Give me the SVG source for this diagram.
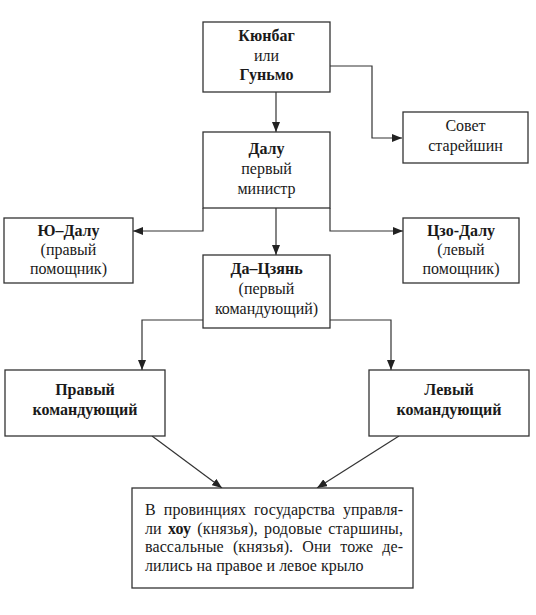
<svg xmlns="http://www.w3.org/2000/svg" width="536" height="615" viewBox="0 0 536 615" font-family="Liberation Serif, serif">
<style>
rect.n{fill:#fff;stroke:#333;stroke-width:1.3}
text{font-family:'Liberation Serif',serif;font-size:16px;fill:#1a1a1a}
.c{text-anchor:middle}
.b{font-weight:bold}
.ln{fill:none;stroke:#333;stroke-width:1.2}
</style>
<defs>
<marker id="ah" viewBox="0 0 10 8" refX="10" refY="4" markerWidth="10" markerHeight="8" markerUnits="userSpaceOnUse" orient="auto">
<path d="M0,0 L10,4 L0,8 Z" fill="#222"/>
</marker>
</defs>
<rect x="0" y="0" width="536" height="615" fill="#fff"/>
<g id="connectors">
<path class="ln" d="M276,92 V132" marker-end="url(#ah)"/>
<path class="ln" d="M330,66 H372 V138 H402" marker-end="url(#ah)"/>
<path class="ln" d="M203,208 V231 H133" marker-end="url(#ah)"/>
<path class="ln" d="M330,208 V231 H403" marker-end="url(#ah)"/>
<path class="ln" d="M276,208 V255" marker-end="url(#ah)"/>
<path class="ln" d="M203,320 H142 V370" marker-end="url(#ah)"/>
<path class="ln" d="M330,320 H391 V370" marker-end="url(#ah)"/>
<path class="ln" d="M152,436 L222,488" marker-end="url(#ah)"/>
<path class="ln" d="M399,436 L317,488" marker-end="url(#ah)"/>
</g>
<g id="kyunbag">
<rect class="n" x="203" y="22" width="127" height="70"/>
<text class="c b" x="266.5" y="41">Кюнбаг</text>
<text class="c" x="266.5" y="61">или</text>
<text class="c b" x="266.5" y="80">Гуньмо</text>
</g>
<g id="sovet">
<rect class="n" x="403" y="112" width="125" height="51"/>
<text class="c" x="465.5" y="131">Совет</text>
<text class="c" x="465.5" y="151">старейшин</text>
</g>
<g id="dalu">
<rect class="n" x="203" y="132" width="127" height="76"/>
<text class="c b" x="266.5" y="154">Далу</text>
<text class="c" x="266.5" y="174">первый</text>
<text class="c" x="266.5" y="194">министр</text>
</g>
<g id="yu-dalu">
<rect class="n" x="4" y="218" width="129" height="65"/>
<text class="c b" x="68.5" y="236">Ю–Далу</text>
<text class="c" x="68.5" y="255">(правый</text>
<text class="c" x="68.5" y="274">помощник)</text>
</g>
<g id="tszo-dalu">
<rect class="n" x="403" y="218" width="116" height="65"/>
<text class="c b" x="461" y="236">Цзо-Далу</text>
<text class="c" x="461" y="255">(левый</text>
<text class="c" x="461" y="274">помощник)</text>
</g>
<g id="da-tszyan">
<rect class="n" x="203" y="255" width="127" height="73"/>
<text class="c b" x="266.5" y="274">Да–Цзянь</text>
<text class="c" x="266.5" y="294">(первый</text>
<text class="c" x="266.5" y="314">командующий)</text>
</g>
<g id="pravyi">
<rect class="n" x="5" y="370" width="160" height="66"/>
<text class="c b" x="85" y="395">Правый</text>
<text class="c b" x="85" y="415">командующий</text>
</g>
<g id="levyi">
<rect class="n" x="369" y="370" width="160" height="66"/>
<text class="c b" x="449" y="395">Левый</text>
<text class="c b" x="449" y="415">командующий</text>
</g>
<g id="provinces">
<rect class="n" x="132" y="488" width="281" height="100"/>
<text x="145" y="515" word-spacing="4" textLength="258" lengthAdjust="spacing">В провинциях государства управля-</text>
<text x="145" y="533.5" word-spacing="2" textLength="258" lengthAdjust="spacing">ли <tspan class="b">хоу</tspan> (князья), родовые старшины,</text>
<text x="145" y="552" word-spacing="5" textLength="258" lengthAdjust="spacing">вассальные (князья). Они тоже де-</text>
<text x="145" y="570.5">лились на правое и левое крыло</text>
</g>
</svg>
